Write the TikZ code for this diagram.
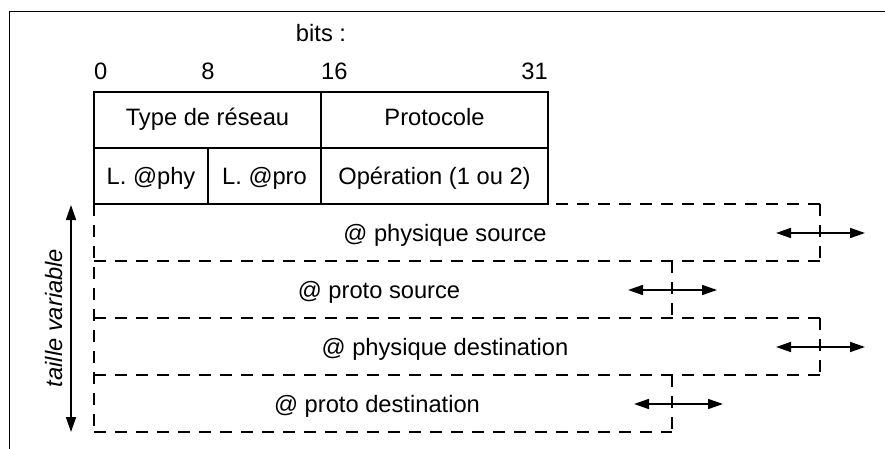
\documentclass[tikz,border=0pt]{standalone}
\usepackage{fontspec}
\setmainfont{Liberation Sans}
\usetikzlibrary{arrows.meta}
\begin{document}
\begin{tikzpicture}[x=1pt,y=-1pt,
  txt/.style={font=\fontsize{23.7}{28}\selectfont, inner sep=0pt, anchor=base},
  solidline/.style={line width=1.6pt},
  dashline/.style={line width=1.6pt, dash pattern=on 12pt off 9pt},
  dbl/.style={line width=1.6pt, {Triangle[length=15pt,width=10pt]}-{Triangle[length=15pt,width=10pt]}},
  frameline/.style={line width=1pt}]
\useasboundingbox (0,0) rectangle (885,449);
% frame
\draw[frameline] (9,449) -- (9,12) -- (885,12);
% dashed rows
\draw[dashline] (94,204) -- (820,204);
\draw[dashline] (94,261) -- (820,261);
\draw[dashline] (94,318) -- (820,318);
\draw[dashline] (94,375) -- (820,375);
\draw[dashline] (94,432) -- (672,432);
\draw[dashline] (94,204) -- (94,432);
\draw[dashline] (820,204) -- (820,261);
\draw[dashline] (820,318) -- (820,375);
\draw[dashline] (672,261) -- (672,318);
\draw[dashline] (672,375) -- (672,432);
% table
\draw[solidline] (94,92) rectangle (548,204);
\draw[solidline] (94,148) -- (548,148);
\draw[solidline] (321,92) -- (321,204);
\draw[solidline] (208,148) -- (208,204);
% header texts
\node[txt] (bits) at (321,42) {bits :};
\node[txt, anchor=base west] (b0) at (94,80) {0};
\node[txt] (b8) at (208,80) {8};
\node[txt, anchor=base west] (b16) at (321,80) {16};
\node[txt, anchor=base east] (b31) at (548,80) {31};
% table texts
\node[txt] (type) at (207.5,126) {Type de réseau};
\node[txt] (proto) at (434.5,126) {Protocole};
\node[txt] (lphy) at (151,184) {L. @phy};
\node[txt] (lpro) at (264.5,184) {L. @pro};
\node[txt] (op) at (434.5,184) {Opération (1 ou 2)};
% row texts
\node[txt] (r1) at (445,241) {@ physique source};
\node[txt] (r2) at (379,298) {@ proto source};
\node[txt] (r3) at (445,355) {@ physique destination};
\node[txt] (r4) at (377,412) {@ proto destination};
% size arrows
\coordinate (a1l) at (776,233); \coordinate (a1r) at (865,233);
\coordinate (a2l) at (628,290); \coordinate (a2r) at (717,290);
\coordinate (a3l) at (776,347); \coordinate (a3r) at (865,347);
\coordinate (a4l) at (634,404); \coordinate (a4r) at (723,404);
\draw[dbl] (a1l) -- (a1r);
\draw[dbl] (a2l) -- (a2r);
\draw[dbl] (a3l) -- (a3r);
\draw[dbl] (a4l) -- (a4r);
% vertical arrow
\coordinate (vt) at (71,205); \coordinate (vb) at (71,432);
\draw[dbl] (vt) -- (vb);
\node[txt, rotate=90, font=\fontsize{23.7}{28}\selectfont\itshape] (taille) at (62,318) {taille variable};
\end{tikzpicture}
\end{document}
